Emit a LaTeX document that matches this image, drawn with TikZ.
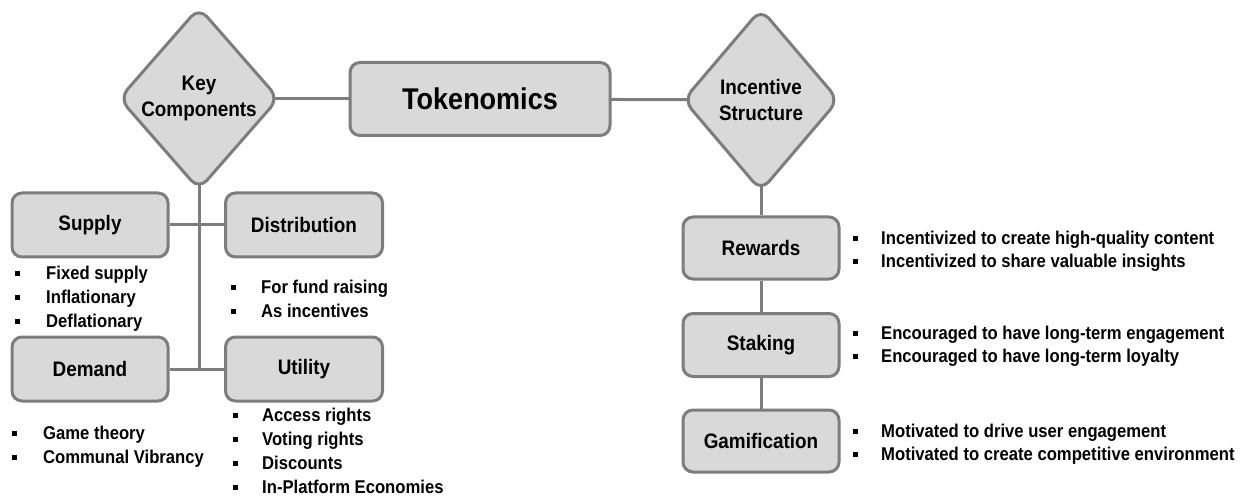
\documentclass[tikz,border=0pt]{standalone}
\usepackage{fontspec}
\setmainfont{Liberation Sans}[FakeStretch=0.9]
\usetikzlibrary{shapes}
\usetikzlibrary{positioning}
\usetikzlibrary{backgrounds}

\definecolor{boxfill}{RGB}{217,217,217}
\definecolor{boxline}{RGB}{125,125,125}

% one bullet line of a list
\newcommand{\itm}[2][29pt]{\makebox[#1][l]{\raisebox{3.5pt}{\rule{5pt}{5pt}}}#2}

\tikzset{
  box/.style={draw=boxline, fill=boxfill, line width=3pt, rounded corners=10pt,
    minimum width=156pt, minimum height=64pt, inner sep=0pt, align=center,
    font=\bfseries\fontsize{21}{25}\selectfont},
  dia/.style={diamond, draw=boxline, fill=boxfill, line width=3pt, rounded corners=12pt,
    minimum width=156pt, minimum height=183pt, inner sep=0pt, align=center,
    font=\bfseries\fontsize{21}{26}\selectfont},
  list/.style={anchor=north west, inner sep=0pt, align=left,
    font=\bfseries\fontsize{18.5}{24}\selectfont},
  link/.style={draw=boxline, line width=3pt}
}

\begin{document}
\begin{tikzpicture}[x=1pt,y=-1pt]
\useasboundingbox (0,0) rectangle (1248,497);

% top row
\node[dia] (keyc) at (199,98.5) {Key\\Components};
\node[box, minimum width=260pt, minimum height=73pt, font=\bfseries\fontsize{30}{34}\selectfont] (toke) at (480,99) {Tokenomics};
\node[dia] (ince) at (761,100) {Incentive\\Structure};

% key components
\node[box] (supply) at (90,225) {Supply};
\node[box, minimum width=157pt] (distr) at (304,225) {Distribution};
\node[box] (demand) at (90,369) {Demand};
\node[box, minimum width=157pt] (util) at (304,369) {Utility};

\node[list] (supplyl) at (15,265.5) {\itm[31pt]{Fixed supply}\\\itm[31pt]{Inflationary}\\\itm[31pt]{Deflationary}};
\node[list] (distrl) at (231,279.5) {\itm[30pt]{For fund raising}\\\itm[30pt]{As incentives}};
\node[list] (demandl) at (12,425.5) {\itm[31pt]{Game theory}\\\itm[31pt]{Communal Vibrancy}};
\node[list] (utill) at (233,407.5) {\itm{Access rights}\\\itm{Voting rights}\\\itm{Discounts}\\\itm{In-Platform Economies}};

% incentive structure
\node[box, minimum height=62pt] (rewards) at (761,248) {Rewards};
\node[box, minimum height=63pt] (staking) at (761,345) {Staking};
\node[box, minimum height=62pt] (gamif) at (761,441) {Gamification};

\begin{scope}[list/.append style={font=\bfseries\fontsize{18.5}{23.5}\selectfont}]
\node[list] (rewardsl) at (853,230.5) {\itm[28pt]{Incentivized to create high-quality content}\\\itm[28pt]{Incentivized to share valuable insights}};
\node[list] (stakingl) at (853,325.5) {\itm[28pt]{Encouraged to have long-term engagement}\\\itm[28pt]{Encouraged to have long-term loyalty}};
\node[list] (gamifl) at (853,423.5) {\itm[28pt]{Motivated to drive user engagement}\\\itm[28pt]{Motivated to create competitive environment}};
\end{scope}

% connectors, kept behind the shapes
\begin{pgfonlayer}{background}
\draw[link] (keyc.center) -- (keyc.center -| toke.center);
\draw[link] (toke.center) -- (ince.center);
\draw[link] (keyc.center) -- (keyc.center |- demand.east);
\draw[link] (supply.east) -- (distr.west);
\draw[link] (demand.east) -- (util.west);
\draw[link] (ince.center) -- (rewards.north);
\draw[link] (rewards.south) -- (staking.north);
\draw[link] (staking.south) -- (gamif.north);
\end{pgfonlayer}
\end{tikzpicture}
\end{document}
